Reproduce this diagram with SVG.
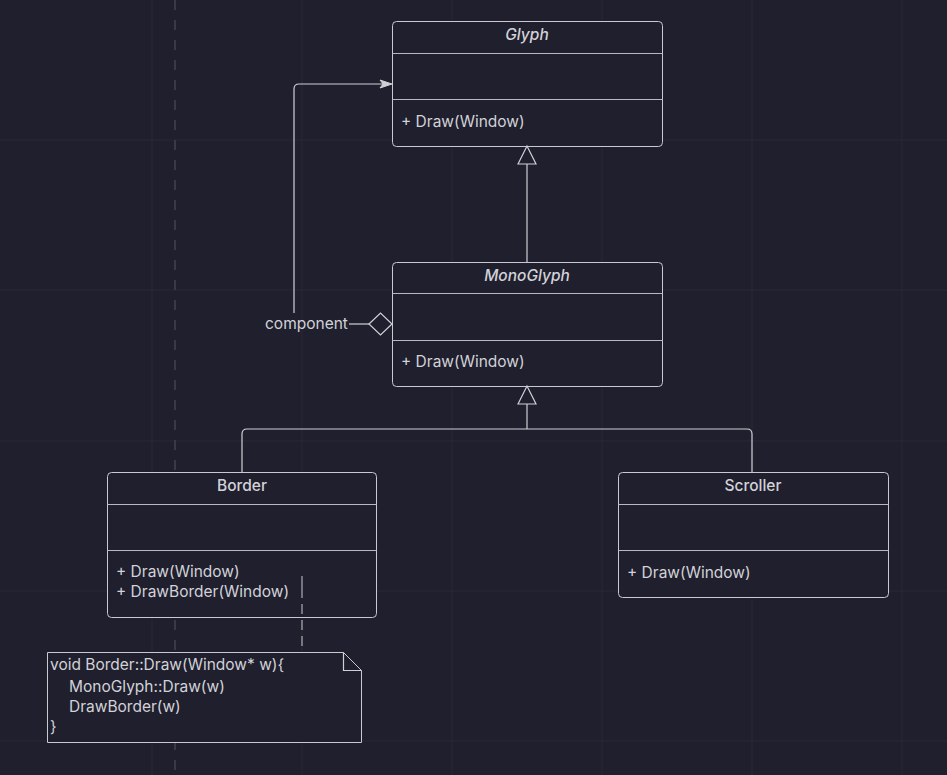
<svg xmlns="http://www.w3.org/2000/svg" width="947" height="775" viewBox="0 0 947 775">
<defs>
<style>
.bg{fill:#1f1f2d}
.grid{stroke:#2a2a37;stroke-width:1}
.box{fill:#1f1f2d;stroke:#c9c9cf;stroke-width:1}
.div{stroke:#b8b8c0;stroke-width:1}
.ln{fill:none;stroke:#d0d0d6;stroke-width:1.2}
.t{font-family:Inter,"Liberation Sans",sans-serif;font-size:15.5px;fill:#d2d2d8}
.h{font-family:Inter,"Liberation Sans",sans-serif;font-size:15.5px;fill:#d2d2d8;text-anchor:middle;font-weight:500}
.i{font-style:italic}
</style>
</defs>
<rect class="bg" x="0" y="0" width="947" height="775"/>
<g id="grid">
<line class="grid" x1="152" y1="0" x2="152" y2="775"/>
<line class="grid" x1="302" y1="0" x2="302" y2="775"/>
<line class="grid" x1="452" y1="0" x2="452" y2="775"/>
<line class="grid" x1="602" y1="0" x2="602" y2="775"/>
<line class="grid" x1="752" y1="0" x2="752" y2="775"/>
<line class="grid" x1="902" y1="0" x2="902" y2="775"/>
<line class="grid" x1="0" y1="140" x2="947" y2="140"/>
<line class="grid" x1="0" y1="290" x2="947" y2="290"/>
<line class="grid" x1="0" y1="441" x2="947" y2="441"/>
<line class="grid" x1="0" y1="591" x2="947" y2="591"/>
<line class="grid" x1="0" y1="741" x2="947" y2="741"/>
<line x1="175" y1="0" x2="175" y2="775" stroke="#3a3a47" stroke-width="2" stroke-dasharray="10 10"/>
</g>
<g id="glyph">
<rect class="box" x="392.5" y="21.5" width="270" height="125" rx="4"/>
<line class="div" x1="392.5" y1="53.5" x2="662.5" y2="53.5"/>
<line class="div" x1="392.5" y1="99.5" x2="662.5" y2="99.5"/>
<text class="h i" x="527" y="40">Glyph</text>
<text class="t" x="401" y="127">+ Draw(Window)</text>
</g>
<g id="monoglyph">
<rect class="box" x="392.5" y="262.5" width="270" height="124" rx="4"/>
<line class="div" x1="392.5" y1="293.5" x2="662.5" y2="293.5"/>
<line class="div" x1="392.5" y1="340.5" x2="662.5" y2="340.5"/>
<text class="h i" x="527" y="281">MonoGlyph</text>
<text class="t" x="401" y="367">+ Draw(Window)</text>
</g>
<g id="border">
<rect class="box" x="107.5" y="472.5" width="269" height="145" rx="4"/>
<line class="div" x1="107.5" y1="504.5" x2="376.5" y2="504.5"/>
<line class="div" x1="107.5" y1="550.5" x2="376.5" y2="550.5"/>
<text class="h" x="242" y="491">Border</text>
<text class="t" x="116" y="577">+ Draw(Window)</text>
<text class="t" x="116" y="597">+ DrawBorder(Window)</text>
</g>
<g id="scroller">
<rect class="box" x="618.5" y="472.5" width="270" height="125" rx="4"/>
<line class="div" x1="618.5" y1="504.5" x2="888.5" y2="504.5"/>
<line class="div" x1="618.5" y1="550.5" x2="888.5" y2="550.5"/>
<text class="h" x="753" y="491">Scroller</text>
<text class="t" x="627" y="578">+ Draw(Window)</text>
</g>
<g id="note">
<path class="box" d="M47.5 652.5 H343.5 L361.5 670.5 V742.5 H47.5 Z"/>
<path class="ln" d="M343.5 652.5 V670.5 H361.5" stroke-width="1"/>
<text class="t" x="50" y="670">void Border::Draw(Window* w){</text>
<text class="t" x="69" y="692">MonoGlyph::Draw(w)</text>
<text class="t" x="69" y="712">DrawBorder(w)</text>
<text class="t" x="50" y="732">}</text>
</g>
<g id="connectors">
<path class="ln" d="M527 262 V164"/>
<path class="ln" d="M518 164 L527 146 L536 164 Z"/>
<path class="ln" d="M242 472 V434 Q242 429 247 429 H747 Q752 429 752 434 V472"/>
<path class="ln" d="M527 429 V404"/>
<path class="ln" d="M518 404 L527 386 L536 404 Z"/>
<path class="ln" d="M294 313 V89 Q294 84 299 84 H384"/>
<path d="M380 80 L392 84 L380 88 L383 84 Z" fill="#d0d0d6" stroke="#d0d0d6" stroke-width="1"/>
<path class="ln" d="M349 324 H369"/>
<path class="ln" d="M369 324 L380.5 313 L392 324 L380.5 335 Z"/>
<text class="t" x="265" y="329">component</text>
<line x1="302" y1="576" x2="302" y2="652" stroke="#c9c9cf" stroke-width="1" stroke-dasharray="22 6 10 6 10 6 10 6"/>
</g>
</svg>
